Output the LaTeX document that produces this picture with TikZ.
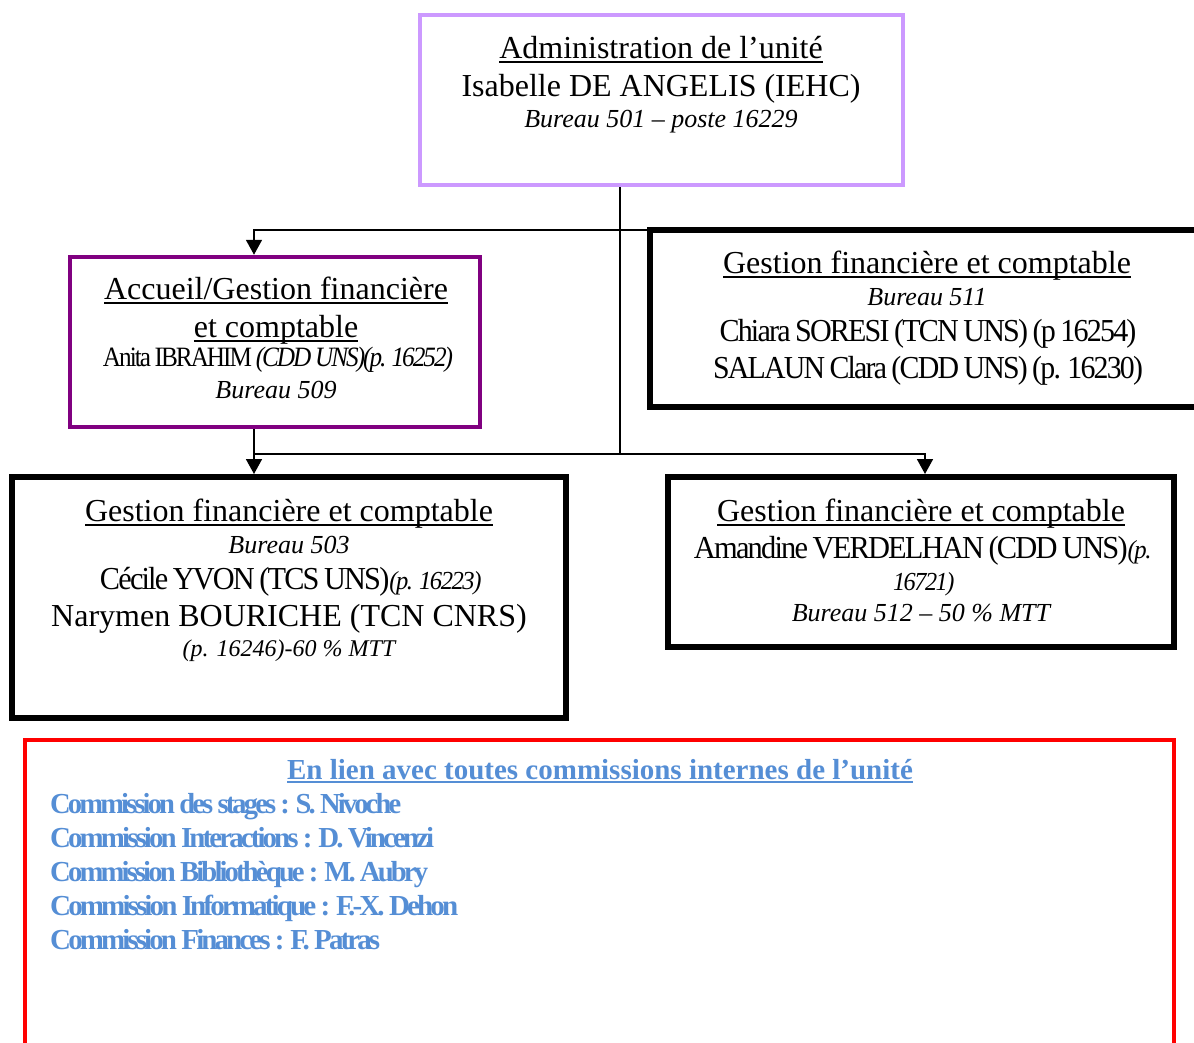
\documentclass[tikz,border=0pt]{standalone}
\usepackage{fontspec}
\setmainfont{Liberation Serif}
\usetikzlibrary{arrows.meta}
\definecolor{lav}{RGB}{204,153,255}
\definecolor{purp}{RGB}{128,0,128}
\definecolor{bluet}{RGB}{85,142,213}
\newcommand{\fitw}[3][-6]{\resizebox{#2}{\height}{\addfontfeature{LetterSpace=#1}\spaceskip=0.15em\relax #3}}
\newcommand{\fs}[1]{\fontsize{#1}{#1}\selectfont}
\newcommand{\myul}[2][5pt]{\setbox0\hbox{#2}\rlap{\rule[-#1]{\wd0}{1.7pt}}\box0}
\begin{document}
\begin{tikzpicture}[x=1pt,y=-1pt,
  boxn/.style={draw, rectangle, inner sep=0pt},
  thickbox/.style={boxn, draw=black, line width=6pt},
  conn/.style={draw=black, line width=1.7pt},
  arr/.style={-{Triangle[width=16pt,length=15pt]}},
  txt/.style={anchor=base, inner sep=0pt},
  txtl/.style={anchor=base west, inner sep=0pt, text=bluet}]
\useasboundingbox (0,0) rectangle (1194,1042);
\clip (0,0) rectangle (1194,1042);

% boxes
\node[boxn, draw=lav, line width=4pt, minimum width=483pt, minimum height=170pt] (top) at (661.5,100) {};
\node[boxn, draw=purp, line width=4.5pt, minimum width=410pt, minimum height=170pt] (acc) at (275,342) {};
\node[thickbox, minimum width=554pt, minimum height=177pt] (r1) at (927,318.5) {};
\node[thickbox, minimum width=554pt, minimum height=241pt] (bl) at (289,597.5) {};
\node[thickbox, minimum width=506pt, minimum height=170pt] (br) at (921,562) {};
\node[boxn, draw=red, line width=4pt, minimum width=1149pt, minimum height=320pt] (red) at (599.5,900) {};

% connectors
\coordinate (cL) at (254,0);
\coordinate (cM) at (620,0);
\coordinate (cR) at (925,0);
\coordinate (j1) at (620,230);
\coordinate (j2) at (620,454);
\draw[conn] (top.south -| cM) -- (j2);
\draw[conn] (j1) -- (r1.west |- j1);
\draw[conn,arr] (j1) -| (acc.north -| cL);
\draw[conn,arr] (acc.south -| cL) -- (bl.north -| cL);
\draw[conn] (j2) -- (j2 -| cL);
\draw[conn,arr] (j2) -| (br.north -| cR);

% top box text
\node[txt] (t1) at (661,58) {\fs{32}\myul{Administration de l’unité}};
\node[txt] (t2) at (661,96) {\fs{32}Isabelle DE ANGELIS (IEHC)};
\node[txt] (t3) at (661,127) {\fs{26}\itshape Bureau 501 – poste 16229};

% accueil text
\node[txt] (a1) at (276,299) {\fs{32}\myul{Accueil/Gestion financière}};
\node[txt] (a2) at (276,337) {\fs{32}\myul{et comptable}};
\node[txt] (a3) at (277,366) {\fs{28}\fitw[-8]{348pt}{Anita IBRAHIM \textit{(CDD UNS)(p. 16252)}}};
\node[txt] (a4) at (276,398) {\fs{26}\itshape Bureau 509};

% right box 1 text
\node[txt] (r1a) at (927,273) {\fs{32}\myul{Gestion financière et comptable}};
\node[txt] (r1b) at (927,305) {\fs{26}\itshape Bureau 511};
\node[txt] (r1c) at (928,341) {\fs{32}\fitw{417pt}{Chiara SORESI (TCN UNS) (p 16254)}};
\node[txt] (r1d) at (928,378) {\fs{32}\fitw{430pt}{SALAUN Clara (CDD UNS) (p. 16230)}};

% bottom left text
\node[txt] (b1) at (289,521) {\fs{32}\myul{Gestion financière et comptable}};
\node[txt] (b2) at (289,553) {\fs{26}\itshape Bureau 503};
\node[txt] (b3) at (290,589) {\fs{32}\fitw{380pt}{Cécile YVON (TCS UNS)\fs{26}\textit{(p. 16223)}}};
\node[txt] (b4) at (289,626) {\fs{32}Narymen BOURICHE (TCN CNRS)};
\node[txt] (b5) at (289,656) {\fs{24}\itshape (p. 16246)-60 \% MTT};

% bottom right text
\node[txt] (c1) at (921,521) {\fs{32}\myul{Gestion financière et comptable}};
\node[txt] (c2) at (922,558) {\fs{32}\fitw{456pt}{Amandine VERDELHAN (CDD UNS)\fs{26}\textit{(p.}}};
\node[txt] (c3) at (923,590) {\fs{26}\fitw{60pt}{\textit{16721)}}};
\node[txt] (c4) at (921,621) {\fs{26}\itshape Bureau 512 – 50 \% MTT};

% red box text
\node[txt, text=bluet] (rt) at (600,779) {\fs{29}\bfseries\myul[4pt]{En lien avec toutes commissions internes de l’unité}};
\node[txtl] (l1) at (50,813) {\fs{29}\bfseries\fitw[-10]{351pt}{Commission des stages : S. Nivoche}};
\node[txtl] (l2) at (50,847) {\fs{29}\bfseries\fitw[-10]{384pt}{Commission Interactions : D. Vincenzi}};
\node[txtl] (l3) at (50,881) {\fs{29}\bfseries\fitw[-10]{378pt}{Commission Bibliothèque : M. Aubry}};
\node[txtl] (l4) at (50,915) {\fs{29}\bfseries\fitw[-10]{408pt}{Commission Informatique : F.-X. Dehon}};
\node[txtl] (l5) at (50,949) {\fs{29}\bfseries\fitw[-10]{330pt}{Commission Finances : F. Patras}};
\end{tikzpicture}
\end{document}
